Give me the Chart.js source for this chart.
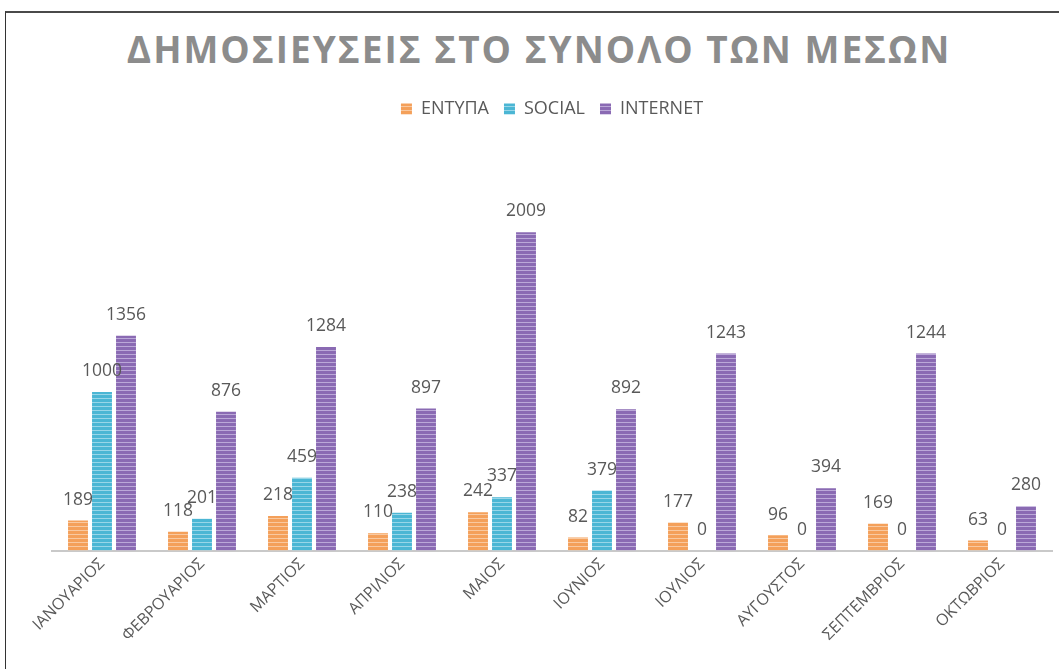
<!DOCTYPE html>
<html>
<head>
<meta charset="utf-8">
<script src="https://cdn.jsdelivr.net/npm/chart.js@4/dist/chart.umd.min.js"></script>
<style>
  html, body { margin: 0; padding: 0; background: #fff; overflow: hidden; }
  #wrap { position: relative; width: 1059px; height: 669px; }
  #frame { position: absolute; left: 5px; top: 11px; width: 1080px; height: 700px;
           border-top: 2px solid #4a4a4a; border-left: 1px solid #333; box-sizing: border-box; }
  #title { position: absolute; left: 6px; width: 1066px; top: 24px; text-align: center;
           font-family: "Open Sans", sans-serif; font-weight: 700; font-size: 37px;
           letter-spacing: 2.0px; color: #8c8c8c; line-height: 50px; white-space: nowrap; }
  canvas { position: absolute; left: 0; top: 0; }
</style>
</head>
<body>
<div id="wrap">
  <div id="frame"></div>
  <div id="title">ΔΗΜΟΣΙΕΥΣΕΙΣ ΣΤΟ ΣΥΝΟΛΟ ΤΩΝ ΜΕΣΩΝ</div>
  <canvas id="c" width="1059" height="669"></canvas>
</div>
<script>
const months = ["ΙΑΝΟΥΑΡΙΟΣ", "ΦΕΒΡΟΥΑΡΙΟΣ", "ΜΑΡΤΙΟΣ", "ΑΠΡΙΛΙΟΣ", "ΜΑΙΟΣ", "ΙΟΥΝΙΟΣ", "ΙΟΥΛΙΟΣ", "ΑΥΓΟΥΣΤΟΣ", "ΣΕΠΤΕΜΒΡΙΟΣ", "ΟΚΤΩΒΡΙΟΣ"];
const seriesNames = ["ΕΝΤΥΠΑ", "SOCIAL", "INTERNET"];
const entypa = [189, 118, 218, 110, 242, 82, 177, 96, 169, 63];
const social = [1000, 201, 459, 238, 337, 379, 0, 0, 0, 0];
const internet = [1356, 876, 1284, 897, 2009, 892, 1243, 394, 1244, 280];

function stripe(base, light) {
  const p = document.createElement('canvas');
  p.width = 4; p.height = 4;
  const g = p.getContext('2d');
  g.fillStyle = base; g.fillRect(0, 0, 4, 4);
  g.fillStyle = light; g.fillRect(0, 2, 4, 1);
  return document.getElementById('c').getContext('2d').createPattern(p, 'repeat');
}
const colOrange = stripe('#f4a05a', '#f9c9a0');
const colTeal = stripe('#4bb6d4', '#98d6e8');
const colPurple = stripe('#8a6ab3', '#bba8d8');

const valueLabels = {
  id: 'valueLabels',
  afterDatasetsDraw(chart) {
    const ctx = chart.ctx;
    ctx.save();
    ctx.font = '17.5px "Open Sans", sans-serif';
    ctx.fillStyle = '#595959';
    ctx.textAlign = 'center';
    ctx.textBaseline = 'bottom';
    chart.data.datasets.forEach((ds, i) => {
      const meta = chart.getDatasetMeta(i);
      meta.data.forEach((bar, j) => {
        ctx.fillText(String(ds.data[j]), bar.x, bar.y - 12);
      });
    });
    ctx.restore();
  }
};

new Chart(document.getElementById('c'), {
  type: 'bar',
  data: {
    labels: months,
    datasets: [
      { label: seriesNames[0], data: entypa, backgroundColor: colOrange },
      { label: seriesNames[1], data: social, backgroundColor: colTeal },
      { label: seriesNames[2], data: internet, backgroundColor: colPurple }
    ]
  },
  options: {
    responsive: false,
    animation: false,
    devicePixelRatio: 1,
    layout: { padding: { left: 52, right: 7, top: 85, bottom: 20 } },
    datasets: { bar: { barPercentage: 0.83, categoryPercentage: 0.72 } },
    plugins: {
      title: { display: false },
      tooltip: { enabled: false },
      legend: {
        display: true,
        position: 'top',
        labels: {
          font: { family: '"Open Sans", sans-serif', size: 18 },
          color: '#595959',
          boxWidth: 11, boxHeight: 11,
          padding: 15
        }
      }
    },
    scales: {
      x: {
        grid: { display: false, drawTicks: false },
        border: { display: true, color: '#c9c9c9', width: 2 },
        ticks: {
          font: { family: '"Open Sans", sans-serif', size: 16 },
          color: '#595959',
          minRotation: 45, maxRotation: 45,
          padding: 4
        }
      },
      y: {
        display: false,
        min: 0,
        max: 2667
      }
    }
  },
  plugins: [valueLabels]
});
</script>
</body>
</html>
